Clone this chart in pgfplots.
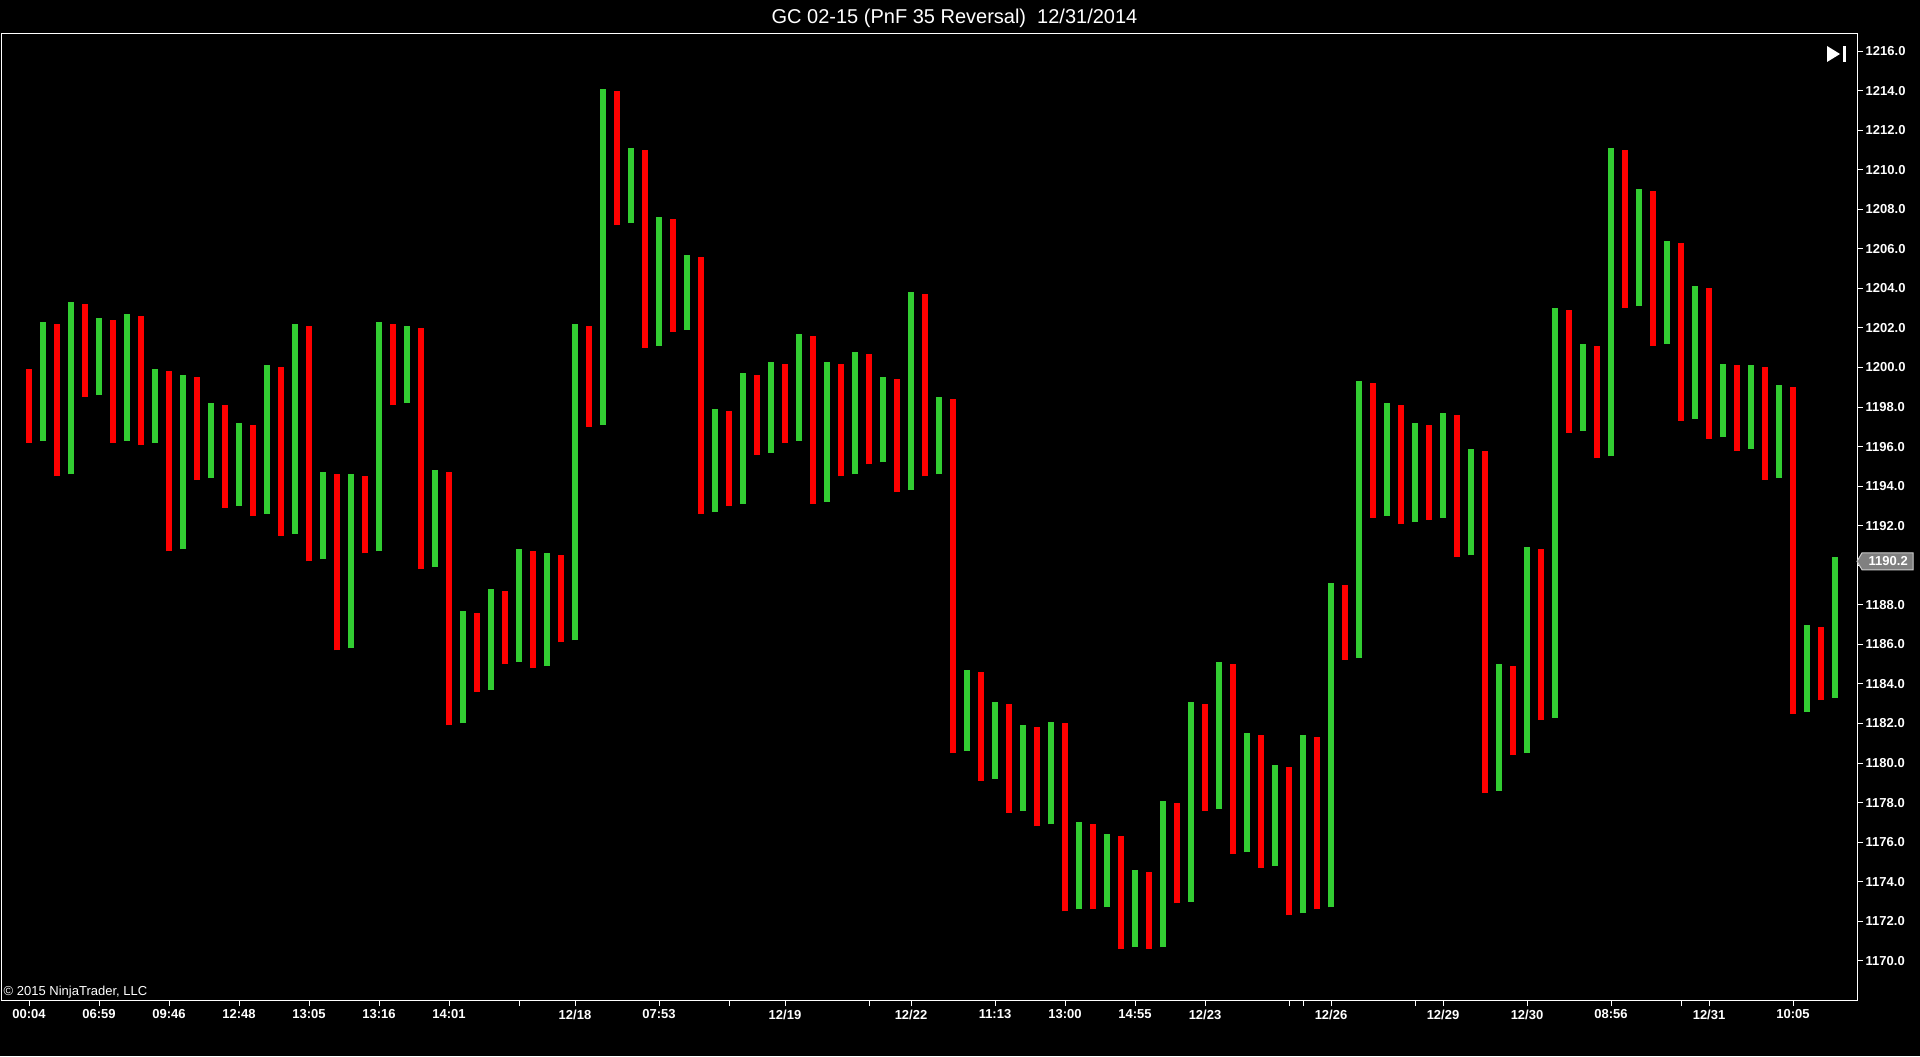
\documentclass[border=0pt]{standalone}
\usepackage{fontspec}
\setmainfont{Liberation Sans}
\usepackage{pgfplots}
\usepackage{pgfplotstable}
\pgfplotsset{compat=1.18}

\definecolor{pnfred}{RGB}{255,0,0}
\definecolor{pnfgreen}{RGB}{50,205,50}
\definecolor{markgray}{RGB}{128,128,128}

% down columns (O), column index, low, high
\pgfplotstableread{
i lo hi
1 1196.2 1199.9
3 1194.5 1202.2
5 1198.5 1203.2
7 1196.2 1202.4
9 1196.1 1202.6
11 1190.7 1199.8
13 1194.3 1199.5
15 1192.9 1198.1
17 1192.5 1197.1
19 1191.5 1200.0
21 1190.2 1202.1
23 1185.7 1194.6
25 1190.6 1194.5
27 1198.1 1202.2
29 1189.8 1202.0
31 1181.9 1194.7
33 1183.6 1187.6
35 1185.0 1188.7
37 1184.8 1190.7
39 1186.1 1190.5
41 1197.0 1202.1
43 1207.2 1214.0
45 1201.0 1211.0
47 1201.8 1207.5
49 1192.6 1205.6
51 1193.0 1197.8
53 1195.6 1199.6
55 1196.2 1200.2
57 1193.1 1201.6
59 1194.5 1200.2
61 1195.1 1200.7
63 1193.7 1199.4
65 1194.5 1203.7
67 1180.5 1198.4
69 1179.1 1184.6
71 1177.5 1183.0
73 1176.8 1181.8
75 1172.5 1182.0
77 1172.6 1176.9
79 1170.6 1176.3
81 1170.6 1174.5
83 1172.9 1178.0
85 1177.6 1183.0
87 1175.4 1185.0
89 1174.7 1181.4
91 1172.3 1179.8
93 1172.6 1181.3
95 1185.2 1189.0
97 1192.4 1199.2
99 1192.1 1198.1
101 1192.3 1197.1
103 1190.4 1197.6
105 1178.5 1195.8
107 1180.4 1184.9
109 1182.2 1190.8
111 1196.7 1202.9
113 1195.4 1201.1
115 1203.0 1211.0
117 1201.1 1208.9
119 1197.3 1206.3
121 1196.4 1204.0
123 1195.8 1200.1
125 1194.3 1200.0
127 1182.5 1199.0
129 1183.2 1186.9
}\downcols

% up columns (X)
\pgfplotstableread{
i lo hi
2 1196.3 1202.3
4 1194.6 1203.3
6 1198.6 1202.5
8 1196.3 1202.7
10 1196.2 1199.9
12 1190.8 1199.6
14 1194.4 1198.2
16 1193.0 1197.2
18 1192.6 1200.1
20 1191.6 1202.2
22 1190.3 1194.7
24 1185.8 1194.6
26 1190.7 1202.3
28 1198.2 1202.1
30 1189.9 1194.8
32 1182.0 1187.7
34 1183.7 1188.8
36 1185.1 1190.8
38 1184.9 1190.6
40 1186.2 1202.2
42 1197.1 1214.1
44 1207.3 1211.1
46 1201.1 1207.6
48 1201.9 1205.7
50 1192.7 1197.9
52 1193.1 1199.7
54 1195.7 1200.3
56 1196.3 1201.7
58 1193.2 1200.3
60 1194.6 1200.8
62 1195.2 1199.5
64 1193.8 1203.8
66 1194.6 1198.5
68 1180.6 1184.7
70 1179.2 1183.1
72 1177.6 1181.9
74 1176.9 1182.1
76 1172.6 1177.0
78 1172.7 1176.4
80 1170.7 1174.6
82 1170.7 1178.1
84 1173.0 1183.1
86 1177.7 1185.1
88 1175.5 1181.5
90 1174.8 1179.9
92 1172.4 1181.4
94 1172.7 1189.1
96 1185.3 1199.3
98 1192.5 1198.2
100 1192.2 1197.2
102 1192.4 1197.7
104 1190.5 1195.9
106 1178.6 1185.0
108 1180.5 1190.9
110 1182.3 1203.0
112 1196.8 1201.2
114 1195.5 1211.1
116 1203.1 1209.0
118 1201.2 1206.4
120 1197.4 1204.1
122 1196.5 1200.2
124 1195.9 1200.1
126 1194.4 1199.1
128 1182.6 1187.0
130 1183.3 1190.4
}\upcols

\newcommand\ticklab{\fontsize{3.7pt}{4.4pt}\selectfont\bfseries}

\begin{document}
\begin{tikzpicture}
  \fill[black] (0,0) rectangle (19.2,10.56);
  \useasboundingbox (0,0) rectangle (19.2,10.56);
  \node[anchor=base, white, font=\fontsize{5.69pt}{6.8pt}\selectfont, inner sep=0pt]
    at (9.545,10.32) {GC 02-15 (PnF 35 Reversal)\ \ 12/31/2014};
  \begin{axis}[
      at={(0.01cm,0.56cm)}, anchor=south west,
      scale only axis, width=18.56cm, height=9.66cm,
      xmin=-1, xmax=131.57, ymin=1168.02, ymax=1216.86,
      axis background/.style={fill=black},
      axis line style={white, line width=0.01cm},
      every tick/.style={white, line width=0.01cm},
      tick align=outside, major tick length=0.06cm,
      xtick pos=left, ytick pos=right, yticklabel pos=right,
      ytick={1170,1172,...,1216},
      xtick={1,6,11,16,21,26,31,36,40,46,51,55,61,64,70,75,80,85,91,92,94,100,102,108,114,119,121,127},
      xticklabels={00:04,06:59,09:46,12:48,13:05,13:16,14:01,,12/18,07:53,,12/19,,12/22,11:13,13:00,14:55,12/23,,,12/26,,12/29,12/30,08:56,,12/31,10:05},
      xticklabel style={white, font=\ticklab, anchor=north, inner sep=0pt, yshift=-0.03cm},
      yticklabel style={white, font=\ticklab, anchor=west, inner sep=0pt, xshift=0.02cm,
        /pgf/number format/.cd, fixed, fixed zerofill, precision=1, 1000 sep={}, assume math mode=true},
      clip mode=individual,
    ]
    \addplot[draw=none, mark=none,
        error bars/.cd, y dir=plus, y explicit, error mark=none,
        error bar style={draw=pnfred, line width=0.06cm}]
      table[x=i, y=lo, y error expr=\thisrow{hi}-\thisrow{lo}] {\downcols};
    \addplot[draw=none, mark=none,
        error bars/.cd, y dir=plus, y explicit, error mark=none,
        error bar style={draw=pnfgreen, line width=0.06cm}]
      table[x=i, y=lo, y error expr=\thisrow{hi}-\thisrow{lo}] {\upcols};
    % last price marker
    \fill[markgray, draw=gray!40, line width=0.01cm] (axis cs:131.57,1190.2)
      -- ++(0.05cm,0.085cm) -- ++(0.51cm,0cm) -- ++(0cm,-0.17cm) -- ++(-0.51cm,0cm) -- cycle;
    \node[white, font=\ticklab, anchor=west, inner sep=0pt] at (axis cs:131.57,1190.2)
      [xshift=0.11cm] {1190.2};
  \end{axis}
  % go-to-end icon
  \fill[white] (18.27,10.10) -- (18.27,9.94) -- (18.40,10.02) -- cycle;
  \fill[white] (18.43,9.94) rectangle (18.46,10.10);
  \node[anchor=base west, white, font=\fontsize{3.7pt}{4.4pt}\selectfont, inner sep=0pt]
    at (0.03,0.61) {© 2015 NinjaTrader, LLC};
\end{tikzpicture}
\end{document}
